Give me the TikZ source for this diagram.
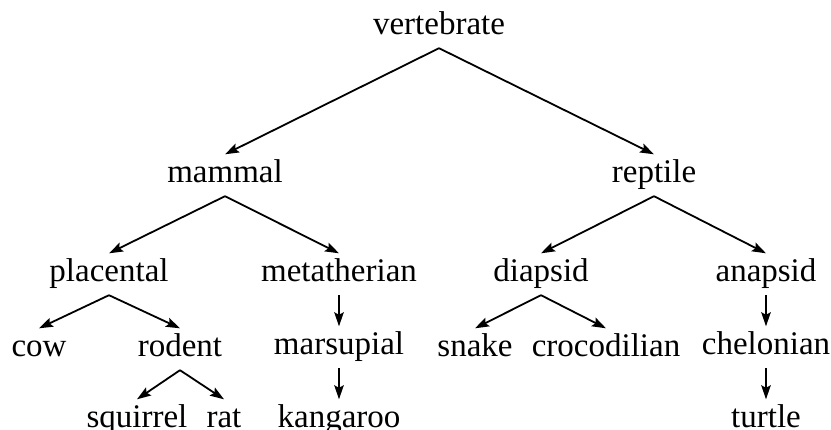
\documentclass[tikz,border=0pt]{standalone}
\usepackage{fontspec}
\setmainfont{Liberation Serif}
\usetikzlibrary{arrows.meta}
\begin{document}
\begin{tikzpicture}[x=1pt,y=-1pt,
  lbl/.style={anchor=base,font=\fontsize{33}{40}\selectfont,text height=22.5pt,text depth=7pt,inner xsep=0pt,inner ysep=6pt},
  edge/.style={line width=1.8pt,-{Stealth[length=14pt,width=9.5pt,inset=2.5pt]}}]
\useasboundingbox (0,0) rectangle (831,430);
\node[lbl] (vert) at (439,35) {vertebrate};
\node[lbl] (mam) at (225,183) {mammal};
\node[lbl] (rep) at (654,183) {reptile};
\node[lbl] (plac) at (109,282) {placental};
\node[lbl] (meta) at (339,282) {metatherian};
\node[lbl] (diap) at (541,282) {diapsid};
\node[lbl] (anap) at (766,282) {anapsid};
\node[lbl] (cow) at (39,357) {cow};
\node[lbl] (rod) at (180,357) {rodent};
\node[lbl] (mars) at (339,355) {marsupial};
\node[lbl] (snake) at (475,357) {snake};
\node[lbl] (croc) at (606,357) {crocodilian};
\node[lbl] (chel) at (766,355) {chelonian};
\node[lbl] (squ) at (137,428) {squirrel};
\node[lbl] (rat) at (224,428) {rat};
\node[lbl] (kang) at (339,428) {kangaroo};
\node[lbl] (turt) at (766,428) {turtle};
\draw[edge] (vert.south) -- (mam.north);
\draw[edge] (vert.south) -- (rep.north);
\draw[edge] (mam.south) -- (plac.north);
\draw[edge] (mam.south) -- (meta.north);
\draw[edge] (rep.south) -- (diap.north);
\draw[edge] (rep.south) -- (anap.north);
\draw[edge] (plac.south) -- (cow.north);
\draw[edge] (plac.south) -- (rod.north);
\draw[edge] (meta.south) -- (mars.north);
\draw[edge] (diap.south) -- (snake.north);
\draw[edge] (diap.south) -- (croc.north);
\draw[edge] (anap.south) -- (chel.north);
\draw[edge] (rod.south) -- (squ.north);
\draw[edge] (rod.south) -- (rat.north);
\draw[edge] (mars.south) -- (kang.north);
\draw[edge] (chel.south) -- (turt.north);
\end{tikzpicture}
\end{document}
